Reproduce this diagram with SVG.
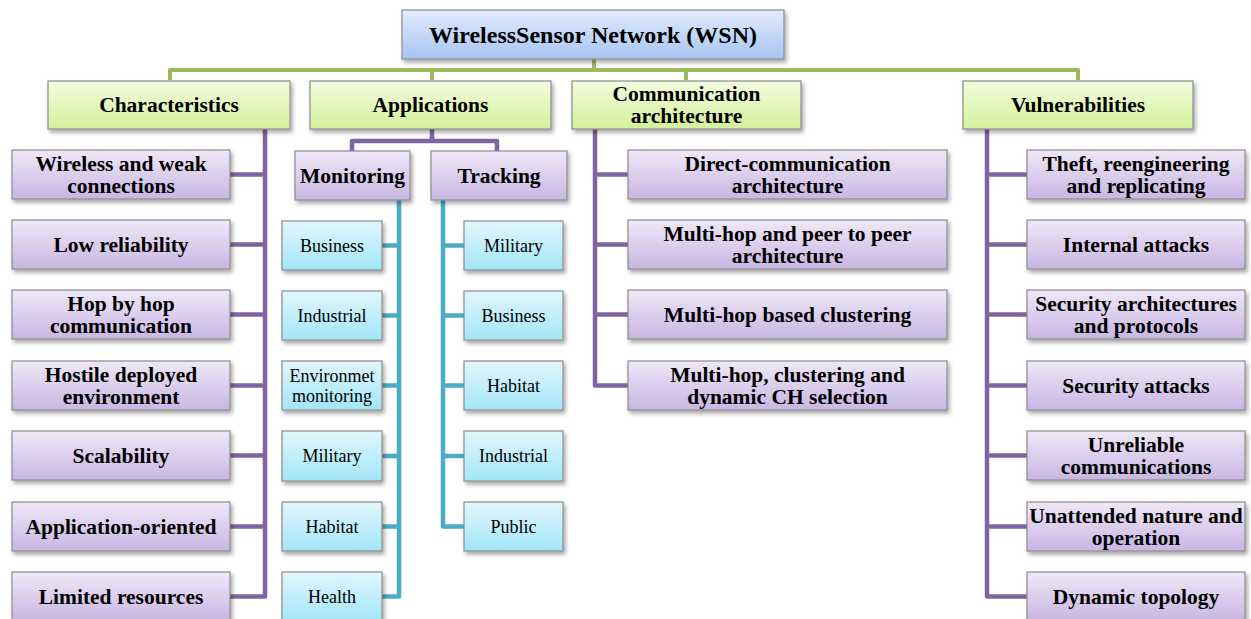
<svg xmlns="http://www.w3.org/2000/svg" width="1251" height="619" viewBox="0 0 1251 619" font-family="'Liberation Serif', 'DejaVu Serif', serif">
<defs>
<linearGradient id="gBlue" x1="0" y1="0" x2="0" y2="1"><stop offset="0" stop-color="#e2ebfc"/><stop offset="1" stop-color="#a8c4f3"/></linearGradient>
<linearGradient id="gGreen" x1="0" y1="0" x2="0" y2="1"><stop offset="0" stop-color="#f4fcdf"/><stop offset="1" stop-color="#d3f19b"/></linearGradient>
<linearGradient id="gPurple" x1="0" y1="0" x2="0" y2="1"><stop offset="0" stop-color="#efe8f8"/><stop offset="1" stop-color="#c8b6e2"/></linearGradient>
<linearGradient id="gTeal" x1="0" y1="0" x2="0" y2="1"><stop offset="0" stop-color="#e2f6fd"/><stop offset="1" stop-color="#a2e6f8"/></linearGradient>
<filter id="sh" x="-10%" y="-20%" width="125%" height="160%"><feDropShadow dx="2" dy="3" stdDeviation="2" flood-color="#000" flood-opacity="0.35"/></filter>
</defs>
<style>
rect{stroke:#8c8c8c;stroke-width:1.2;filter:url(#sh)}
.blue{fill:url(#gBlue)}
.green{fill:url(#gGreen)}
.purple{fill:url(#gPurple)}
.teal{fill:url(#gTeal)}
text{font-family:'Liberation Serif','DejaVu Serif',serif;fill:#000;text-anchor:middle;dominant-baseline:central}
.b{font-weight:bold;font-size:21.5px}
.t{font-weight:bold;font-size:24px}
.n{font-size:18px}
.cg,.cp,.ct{fill:none;stroke-linejoin:round}
.cg{stroke:#9bbb59;stroke-width:4}
.cp{stroke:#8064a2;stroke-width:4.5}
.ct{stroke:#4bacc6;stroke-width:4.5}
</style>
<g id="connectors">
<path class="cg" d="M594,59 V70 M170,80 V70 H1078 V80 M432,70 V80 M686,70 V80"/>
<path class="cp" d="M265,129 V596.5 H230 M265,174.5 H230 M265,244.5 H230 M265,314.5 H230 M265,385.5 H230 M265,455.5 H230 M265,526.5 H230"/>
<path class="cp" d="M432,129 V141 M352,151 V141 H497 V151"/>
<path class="ct" d="M399,200 V596.5 H382 M399,245.5 H382 M399,315.5 H382 M399,385.5 H382 M399,456 H382 M399,526.5 H382"/>
<path class="ct" d="M443,200 V526.5 H464 M443,245.5 H464 M443,315.5 H464 M443,385.5 H464 M443,456 H464"/>
<path class="cp" d="M595,129 V385.5 H628 M595,174.5 H628 M595,244.5 H628 M595,314.5 H628"/>
<path class="cp" d="M987,129 V596.5 H1027 M987,174.5 H1027 M987,244.5 H1027 M987,314.5 H1027 M987,385.5 H1027 M987,455.5 H1027 M987,526.5 H1027"/>
</g>
<g id="root"><rect class="blue" x="402" y="10" width="382" height="49"/><text class="t" x="593" y="34.5">WirelessSensor Network (WSN)</text></g>
<g id="characteristics"><rect class="green" x="48" y="81" width="242" height="48"/><text class="b" x="169" y="105">Characteristics</text></g>
<g id="applications"><rect class="green" x="310" y="81" width="241" height="48"/><text class="b" x="430.5" y="105">Applications</text></g>
<g id="communication"><rect class="green" x="572" y="81" width="229" height="48"/><text class="b" x="686.5" y="94">Communication</text><text class="b" x="686.5" y="116">architecture</text></g>
<g id="vulnerabilities"><rect class="green" x="963" y="81" width="230" height="48"/><text class="b" x="1078" y="105">Vulnerabilities</text></g>

<g id="ch1"><rect class="purple" x="12" y="150" width="218" height="49"/><text class="b" x="121" y="163.5">Wireless and weak</text><text class="b" x="121" y="185.5">connections</text></g>
<g id="ch2"><rect class="purple" x="12" y="220" width="218" height="49"/><text class="b" x="121" y="244.5">Low reliability</text></g>
<g id="ch3"><rect class="purple" x="12" y="290" width="218" height="49"/><text class="b" x="121" y="303.5">Hop by hop</text><text class="b" x="121" y="325.5">communication</text></g>
<g id="ch4"><rect class="purple" x="12" y="361" width="218" height="49"/><text class="b" x="121" y="374.5">Hostile deployed</text><text class="b" x="121" y="396.5">environment</text></g>
<g id="ch5"><rect class="purple" x="12" y="431" width="218" height="49"/><text class="b" x="121" y="455.5">Scalability</text></g>
<g id="ch6"><rect class="purple" x="12" y="502" width="218" height="49"/><text class="b" x="121" y="526.5">Application-oriented</text></g>
<g id="ch7"><rect class="purple" x="12" y="572" width="218" height="49"/><text class="b" x="121" y="596.5">Limited resources</text></g>

<g id="monitoring"><rect class="purple" x="295" y="151" width="115" height="49"/><text class="b" x="352.5" y="175.5">Monitoring</text></g>
<g id="tracking"><rect class="purple" x="431" y="151" width="136" height="49"/><text class="b" x="499" y="175.5">Tracking</text></g>

<g id="m1"><rect class="teal" x="282" y="221" width="100" height="49"/><text class="n" x="332" y="245.5">Business</text></g>
<g id="m2"><rect class="teal" x="282" y="291" width="100" height="49"/><text class="n" x="332" y="315.5">Industrial</text></g>
<g id="m3"><rect class="teal" x="282" y="361" width="100" height="49"/><text class="n" x="332" y="376">Environmet</text><text class="n" x="332" y="396">monitoring</text></g>
<g id="m4"><rect class="teal" x="282" y="431" width="100" height="50"/><text class="n" x="332" y="456">Military</text></g>
<g id="m5"><rect class="teal" x="282" y="502" width="100" height="49"/><text class="n" x="332" y="526.5">Habitat</text></g>
<g id="m6"><rect class="teal" x="282" y="572" width="100" height="49"/><text class="n" x="332" y="596.5">Health</text></g>

<g id="t1"><rect class="teal" x="464" y="221" width="99" height="49"/><text class="n" x="513.5" y="245.5">Military</text></g>
<g id="t2"><rect class="teal" x="464" y="291" width="99" height="49"/><text class="n" x="513.5" y="315.5">Business</text></g>
<g id="t3"><rect class="teal" x="464" y="361" width="99" height="49"/><text class="n" x="513.5" y="385.5">Habitat</text></g>
<g id="t4"><rect class="teal" x="464" y="431" width="99" height="50"/><text class="n" x="513.5" y="456">Industrial</text></g>
<g id="t5"><rect class="teal" x="464" y="502" width="99" height="49"/><text class="n" x="513.5" y="526.5">Public</text></g>

<g id="ca1"><rect class="purple" x="628" y="150" width="319" height="49"/><text class="b" x="787.5" y="163.5">Direct-communication</text><text class="b" x="787.5" y="185.5">architecture</text></g>
<g id="ca2"><rect class="purple" x="628" y="220" width="319" height="49"/><text class="b" x="787.5" y="233.5">Multi-hop and peer to peer</text><text class="b" x="787.5" y="255.5">architecture</text></g>
<g id="ca3"><rect class="purple" x="628" y="290" width="319" height="49"/><text class="b" x="787.5" y="314.5">Multi-hop based clustering</text></g>
<g id="ca4"><rect class="purple" x="628" y="361" width="319" height="49"/><text class="b" x="787.5" y="374.5">Multi-hop, clustering and</text><text class="b" x="787.5" y="396.5">dynamic CH selection</text></g>

<g id="v1"><rect class="purple" x="1027" y="150" width="218" height="49"/><text class="b" x="1136" y="163.5">Theft, reengineering</text><text class="b" x="1136" y="185.5">and replicating</text></g>
<g id="v2"><rect class="purple" x="1027" y="220" width="218" height="49"/><text class="b" x="1136" y="244.5">Internal attacks</text></g>
<g id="v3"><rect class="purple" x="1027" y="290" width="218" height="49"/><text class="b" x="1136" y="303.5">Security architectures</text><text class="b" x="1136" y="325.5">and protocols</text></g>
<g id="v4"><rect class="purple" x="1027" y="361" width="218" height="49"/><text class="b" x="1136" y="385.5">Security attacks</text></g>
<g id="v5"><rect class="purple" x="1027" y="431" width="218" height="49"/><text class="b" x="1136" y="444.5">Unreliable</text><text class="b" x="1136" y="466.5">communications</text></g>
<g id="v6"><rect class="purple" x="1027" y="502" width="218" height="49"/><text class="b" x="1136" y="515.5">Unattended nature and</text><text class="b" x="1136" y="537.5">operation</text></g>
<g id="v7"><rect class="purple" x="1027" y="572" width="218" height="49"/><text class="b" x="1136" y="596.5">Dynamic topology</text></g>
</svg>
